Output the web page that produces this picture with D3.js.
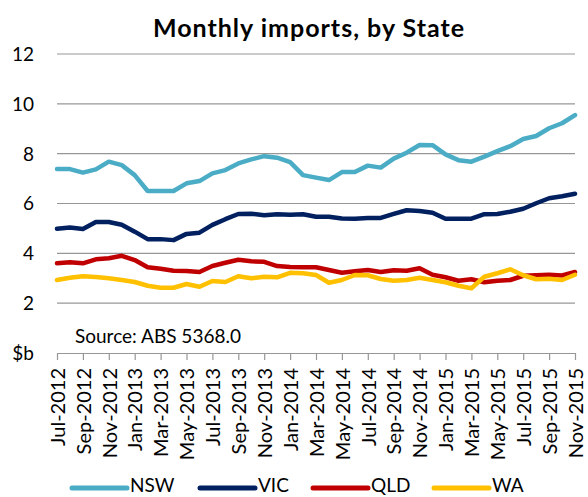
<!DOCTYPE html>
<html>
<head>
<meta charset="utf-8">
<script src="https://cdn.jsdelivr.net/npm/d3@7"></script>
<style>
  body { margin: 0; background: #fff; }
  svg { display: block; font-family: Lato, "Open Sans", sans-serif; }
</style>
</head>
<body>
<svg id="chart" width="588" height="497"></svg>
<script>
// data ($b, monthly Jul-2012 .. Nov-2015)
const tickLabels = ['Jul-2012','Sep-2012','Nov-2012','Jan-2013','Mar-2013','May-2013','Jul-2013',
  'Sep-2013','Nov-2013','Jan-2014','Mar-2014','May-2014','Jul-2014','Sep-2014','Nov-2014',
  'Jan-2015','Mar-2015','May-2015','Jul-2015','Sep-2015','Nov-2015'];

const nsw = [7.38,7.38,7.24,7.37,7.68,7.54,7.14,6.5,6.5,6.5,6.81,6.9,7.21,7.34,7.61,7.77,7.9,7.84,7.66,7.14,
  7.04,6.94,7.26,7.26,7.52,7.44,7.8,8.04,8.35,8.34,7.97,7.74,7.68,7.88,8.1,8.3,8.59,8.71,9.02,9.22,9.55];
const vic = [4.99,5.04,4.98,5.26,5.26,5.15,4.87,4.57,4.57,4.53,4.78,4.83,5.14,5.37,5.58,5.59,5.53,5.57,5.55,5.57,
  5.47,5.47,5.4,5.39,5.42,5.42,5.58,5.73,5.7,5.63,5.39,5.39,5.39,5.57,5.58,5.67,5.79,6.01,6.21,6.29,6.39];
const qld = [3.6,3.64,3.6,3.76,3.8,3.9,3.73,3.44,3.38,3.3,3.29,3.25,3.49,3.62,3.74,3.68,3.66,3.49,3.45,3.44,
  3.44,3.33,3.22,3.28,3.33,3.25,3.32,3.3,3.4,3.14,3.04,2.9,2.96,2.84,2.9,2.93,3.1,3.12,3.14,3.11,3.25];
const wa = [2.93,3.02,3.08,3.05,3.0,2.93,2.85,2.7,2.62,2.62,2.77,2.66,2.89,2.85,3.08,3.0,3.06,3.04,3.22,3.2,
  3.13,2.82,2.93,3.13,3.12,2.97,2.9,2.93,3.02,2.93,2.84,2.7,2.6,3.06,3.2,3.36,3.12,2.96,2.98,2.93,3.14];

const seriesNames = ['NSW', 'VIC', 'QLD', 'WA'];
const seriesColors = ['#4bacc6', '#002060', '#c00000', '#ffc000'];
const yTicks = [0, 2, 4, 6, 8, 10, 12];

const series = [nsw, vic, qld, wa];

//layout
const svg = d3.select('#chart');
const plotLeft = 57, plotRight = 575, plotTop = 54, plotBottom = 353;

const x = d3.scaleLinear().domain([0, nsw.length - 1]).range([plotLeft, plotRight]);
const y = d3.scaleLinear().domain([0, 12]).range([plotBottom, plotTop]);

// title
svg.append('text')
  .attr('x', 309).attr('y', 37)
  .attr('text-anchor', 'middle')
  .attr('font-weight', 'bold')
  .attr('font-size', 25)
  .attr('letter-spacing', 1)
  .text('Monthly imports, by State');

// gridlines
svg.append('g')
  .selectAll('line')
  .data(yTicks.filter(d => d > 0))
  .join('line')
  .attr('x1', plotLeft).attr('x2', plotRight)
  .attr('y1', d => y(d)).attr('y2', d => y(d))
  .attr('stroke', '#979797')
  .attr('stroke-width', 1.2);

// y labels
svg.append('g')
  .selectAll('text')
  .data(yTicks)
  .join('text')
  .attr('x', 34)
  .attr('y', d => y(d))
  .attr('dy', '0.36em')
  .attr('text-anchor', 'end')
  .attr('font-size', 19)
  .text(d => d === 0 ? '$b' : d);

// x axis
const xAxis = d3.axisBottom(x)
  .tickValues(d3.range(0, nsw.length, 2))
  .tickSize(7)
  .tickSizeOuter(0)
  .tickFormat((d, i) => tickLabels[i]);

const gx = svg.append('g')
  .attr('transform', `translate(0,${plotBottom})`)
  .call(xAxis);

gx.select('.domain').attr('stroke', '#979797').attr('stroke-width', 1.2);
gx.selectAll('.tick line').attr('stroke', '#979797').attr('stroke-width', 1.2);
gx.selectAll('.tick text')
  .attr('font-family', 'Lato, sans-serif')
  .attr('font-size', 20)
  .attr('fill', '#000')
  .attr('text-anchor', 'end')
  .attr('transform', 'rotate(-90)')
  .attr('x', -15)
  .attr('y', 0)
  .attr('dy', '0.36em');

// source
svg.append('text')
  .attr('x', 75).attr('y', 343)
  .attr('font-size', 19)
  .text('Source: ABS 5368.0');

// lines
const line = d3.line()
  .x((d, i) => x(i))
  .y(d => y(d));

svg.append('g')
  .selectAll('path')
  .data(series)
  .join('path')
  .attr('d', line)
  .attr('fill', 'none')
  .attr('stroke', (d, i) => seriesColors[i])
  .attr('stroke-width', 4.5)
  .attr('stroke-linejoin', 'round')
  .attr('stroke-linecap', 'round');

// legend
const legendX = [72, 200, 313, 434];
const lg = svg.append('g');
seriesNames.forEach((name, i) => {
  const item = lg.append('g').attr('transform', `translate(${legendX[i]},488)`);
  item.append('line')
    .attr('x1', 0).attr('x2', 55)
    .attr('stroke', seriesColors[i])
    .attr('stroke-width', 5)
    .attr('stroke-linecap', 'round');
  item.append('text')
    .attr('x', 58)
    .attr('y', 4)
    .attr('font-size', 19)
    .text(name);
});
</script>
</body>
</html>
